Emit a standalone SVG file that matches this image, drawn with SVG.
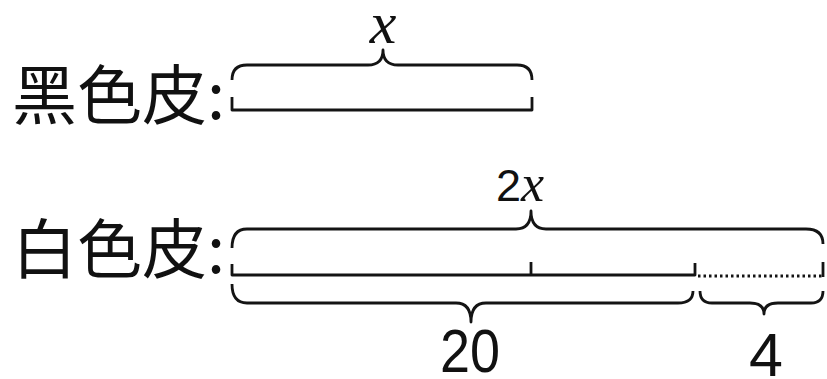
<svg xmlns="http://www.w3.org/2000/svg" width="827" height="379" viewBox="0 0 827 379">
<style>
.cn{font-family:"Noto Sans CJK SC","Liberation Serif",serif;font-size:65px;fill:#111}
.num{font-family:"Liberation Sans",Arial,sans-serif;fill:#111}
.var{font-family:"Liberation Serif","Times New Roman",serif;font-style:italic;fill:#111}
.ln{fill:none;stroke:#141414;stroke-width:2.8;stroke-linecap:butt;stroke-linejoin:round}
.dot{fill:none;stroke:#141414;stroke-width:2.8;stroke-dasharray:2.5 3}
</style>
<rect width="827" height="379" fill="#fff"/>
<g id="label-black"><text class="cn" x="12" y="119">黑色皮:</text></g>
<g id="label-white"><text class="cn" x="12" y="273">白色皮:</text></g>
<g id="label-x"><text class="var" x="383" y="43" font-size="60" text-anchor="middle">x</text></g>
<g id="label-2x"><text x="496" y="201"><tspan class="num" font-size="45">2</tspan><tspan class="var" font-size="52">x</tspan></text></g>
<g id="label-20"><text class="num" x="470" y="372" font-size="62" text-anchor="middle" textLength="60" lengthAdjust="spacingAndGlyphs">20</text></g>
<g id="label-4"><text class="num" x="766" y="376" font-size="61" text-anchor="middle">4</text></g>
<g id="connectors">
<path class="ln" d="M232,80 Q232,65 247,65 L368,65 Q383,65 383,50 Q383,65 398,65 L517,65 Q532,65 532,80"/>
<path class="ln" d="M232,97 V110 H532 V97"/>
<path class="ln" d="M232,248 Q232,229 247,229 L516,229 Q531,229 531,211 Q531,229 546,229 L806,229 Q823,229 823,244"/>
<path class="ln" d="M232,264 V275 H695 V263"/>
<path class="ln" d="M531,262 V275"/>
<path class="dot" d="M698,276 H822"/>
<path class="ln" d="M823,262 V277"/>
<path class="ln" d="M232,284 Q232,303 247,303 L456,303 Q471,303 471,322 Q471,303 486,303 L678,303 Q693,303 693,291"/>
<path class="ln" d="M700,291 Q700,303 712,303 L750,303 Q764,303 764,314 Q764,303 778,303 L811,303 Q823,303 823,291"/>
</g>
</svg>
